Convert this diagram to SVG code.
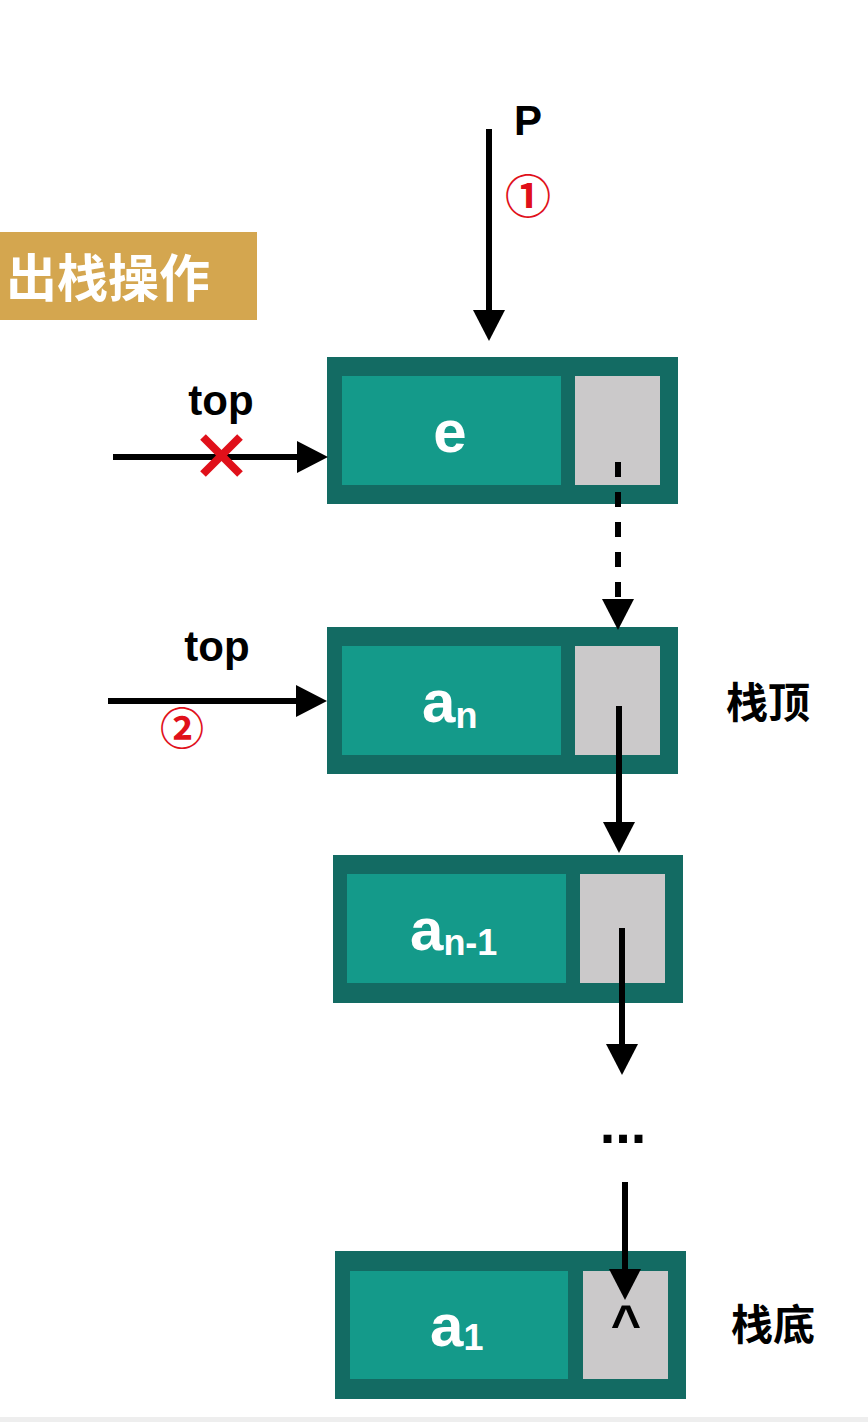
<svg xmlns="http://www.w3.org/2000/svg" width="868" height="1422" viewBox="0 0 868 1422">
<style>
.outer{fill:#136B63}
.inner{fill:#149A8A}
.ptr{fill:#CBC9CA}
.val{font-family:"Liberation Sans",Arial,sans-serif;font-weight:bold;fill:#FFFFFF}
.lbl{font-family:"Liberation Sans",Arial,sans-serif;font-weight:bold;fill:#000000}
.cjk{font-family:"Liberation Sans","Noto Sans CJK SC",sans-serif;font-weight:bold}
.red{font-family:"Noto Sans CJK SC","DejaVu Sans",sans-serif;font-weight:bold;fill:#E0101A}
.line{stroke:#000;stroke-width:6;fill:none}
</style>
<defs>
<marker id="ah" markerUnits="userSpaceOnUse" markerWidth="32" markerHeight="32" refX="2" refY="16" orient="auto" viewBox="0 0 32 32">
<path d="M0,0 L31,16 L0,32 Z" fill="#000"/>
</marker>
</defs>
<rect x="0" y="1417" width="868" height="5" fill="#EEEEEE"/>
<g id="banner">
<rect x="0" y="232" width="257" height="88" fill="#D4A64F"/>
<text x="6" y="297" class="cjk" font-size="51" fill="#FFFFFF">出栈操作</text>
</g>
<g id="node-e">
<rect class="outer" x="327" y="357" width="351" height="147"/>
<rect class="inner" x="342" y="376" width="219" height="109"/>
<rect class="ptr" x="575" y="376" width="85" height="109"/>
<text class="val" x="450" y="452" font-size="60" text-anchor="middle">e</text>
</g>
<g id="node-an">
<rect class="outer" x="327" y="627" width="351" height="147"/>
<rect class="inner" x="342" y="646" width="219" height="109"/>
<rect class="ptr" x="575" y="646" width="85" height="109"/>
<text class="val" x="422" y="722" font-size="60">a<tspan font-size="36" dy="6">n</tspan></text>
</g>
<g id="node-an1">
<rect class="outer" x="333" y="855" width="350" height="148"/>
<rect class="inner" x="347" y="874" width="219" height="109"/>
<rect class="ptr" x="580" y="874" width="85" height="109"/>
<text class="val" x="410" y="950" font-size="60">a<tspan font-size="36" dy="5">n-1</tspan></text>
</g>
<g id="node-a1">
<rect class="outer" x="335" y="1251" width="351" height="148"/>
<rect class="inner" x="350" y="1271" width="218" height="108"/>
<rect class="ptr" x="583" y="1271" width="85" height="108"/>
<text class="val" x="430" y="1346" font-size="60">a<tspan font-size="36" dy="4">1</tspan></text>
<text class="lbl" x="626" y="1341" font-size="52" text-anchor="middle">^</text>
</g>
<g id="labels">
<text class="lbl" x="514" y="135" font-size="42">P</text>
<text class="red" x="528" y="213" font-size="46" text-anchor="middle">①</text>
<text class="lbl" x="221" y="415" font-size="42" text-anchor="middle">top</text>
<text class="lbl" x="217" y="661" font-size="42" text-anchor="middle">top</text>
<text class="red" x="182" y="745" font-size="44" text-anchor="middle">②</text>
<text class="cjk" x="726" y="718" font-size="42" fill="#000">栈顶</text>
<text class="cjk" x="731" y="1340" font-size="42" fill="#000">栈底</text>
<text class="lbl" x="623" y="1143" font-size="56" text-anchor="middle">...</text>
</g>
<g id="connectors">
<line class="line" x1="489" y1="129" x2="489" y2="312" marker-end="url(#ah)"/>
<line class="line" x1="113" y1="457" x2="299" y2="457" marker-end="url(#ah)"/>
<g stroke="#E0101A" stroke-width="8">
<line x1="203" y1="437" x2="240" y2="474"/>
<line x1="240" y1="437" x2="203" y2="474"/>
</g>
<line class="line" x1="618" y1="462" x2="618" y2="601" stroke-dasharray="15 15" marker-end="url(#ah)"/>
<line class="line" x1="108" y1="701" x2="298" y2="701" marker-end="url(#ah)"/>
<line class="line" x1="619" y1="706" x2="619" y2="824" marker-end="url(#ah)"/>
<line class="line" x1="622" y1="928" x2="622" y2="1046" marker-end="url(#ah)"/>
<line class="line" x1="625" y1="1182" x2="625" y2="1271" marker-end="url(#ah)"/>
</g>
</svg>
